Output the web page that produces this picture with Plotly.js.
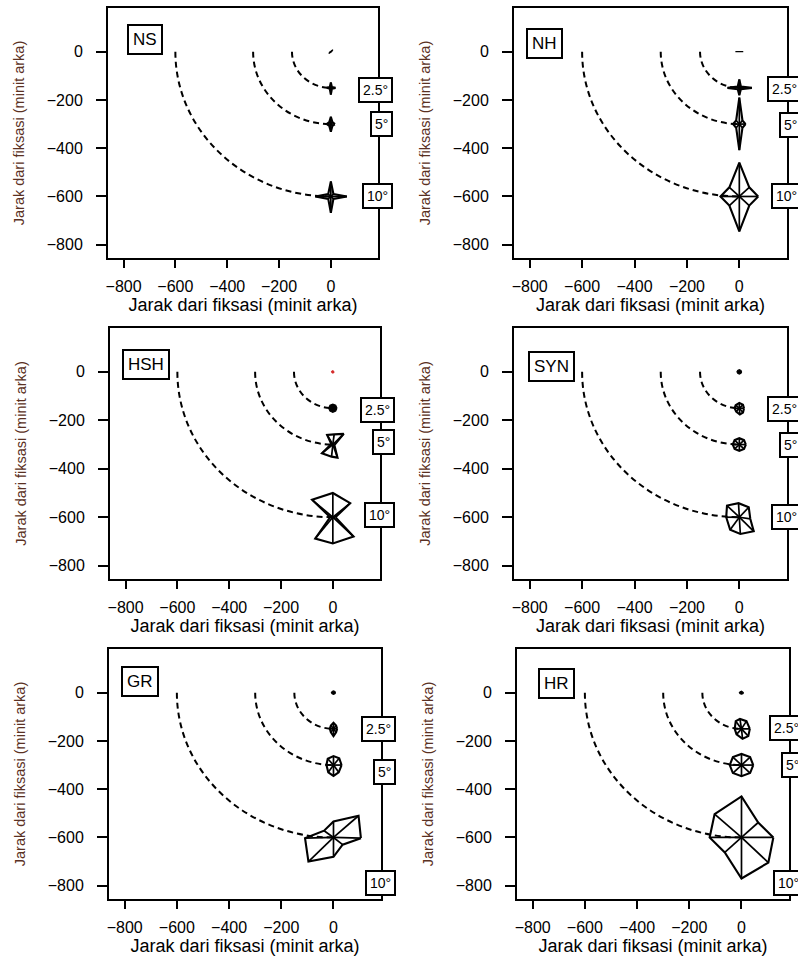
<!DOCTYPE html>
<html><head><meta charset="utf-8">
<script src="https://cdn.plot.ly/plotly-3.0.1.min.js"></script>
<style>html,body{margin:0;padding:0;background:#fff}#chart{width:798px;height:956px}</style>
</head><body><div id="chart"></div>
<script>
const panelNames = ['NS','NH','HSH','SYN','GR','HR'];
const eccentricities = [0,150,300,600];      // centre distance (minit arka) of each test location
const arcRadii = [150,300,600];
const ringLabels = ['2.5°','5°','10°'];
const tickValues = [-800,-600,-400,-200,0];
const axisTitle = 'Jarak dari fiksasi (minit arka)';

// vertex offsets, order: E, NE, N, NW, W, SW, S, SE; rows: fovea, 2.5°, 5°, 10°
const NS_dx = [[3,8,0,-2,-3,-8,0,2],[18,4,0,-4,-15,-4,0,4],[16,6,0,-6,-16,-6,0,6],[62,10,0,-10,-60,-10,0,10]];
const NS_dy = [[0,8,2,2,0,-8,-2,-2],[0,4,22,4,0,-4,-28,-4],[0,8,30,8,0,-8,-32,-8],[0,10,62,10,0,-10,-68,-10]];
const NH_dx = [[15,5,0,-5,-15,-5,0,5],[48,6,0,-6,-45,-6,0,6],[24,12,0,-12,-24,-12,0,12],[72,38,0,-38,-72,-38,0,38]];
const NH_dy = [[0,1,1,1,0,-1,-1,-1],[0,6,35,6,0,-6,-30,-6],[0,15,110,15,0,-15,-108,-15],[0,38,140,38,0,-38,-145,-38]];
const HSH_dx = [[5,3,0,-3,-5,-3,0,3],[16,11,0,-11,-16,-11,0,11],[6,42,5,-22,-6,-42,-5,18],[10,67,0,-80,-10,-68,0,80]];
const HSH_dy = [[0,3,5,3,0,-3,-5,-3],[0,12,17,12,0,-12,-17,-12],[-2,44,42,40,2,-36,-50,-54],[0,58,100,72,0,-88,-108,-80]];
const SYN_dx = [[9,6,0,-6,-9,-6,0,6],[18,14,0,-14,-18,-12,2,14],[25,18,0,-18,-25,-18,0,18],[42,36,-3,-47,-50,-35,4,55]];
const SYN_dy = [[0,6,9,6,0,-6,-9,-6],[0,14,22,12,0,-14,-26,-18],[0,18,26,18,0,-18,-26,-18],[-7,41,58,48,0,-52,-69,-58]];
const GR_dx = [[8,5,0,-5,-8,-5,0,5],[14,10,0,-10,-14,-10,0,10],[31,22,0,-22,-27,-20,0,20],[105,96,0,-36,-109,-96,0,35]];
const GR_dy = [[0,5,7,5,0,-5,-7,-5],[0,14,25,14,0,-14,-30,-14],[0,28,37,26,0,-30,-45,-30],[-3,90,66,28,-3,-100,-80,-30]];
const HR_dx = [[8,5,0,-5,-8,-5,0,5],[32,19,-6,-22,-26,-19,4,26],[45,33,0,-33,-45,-33,0,33],[122,64,0,-103,-122,-64,0,103]];
const HR_dy = [[0,4,6,4,0,-4,-6,-4],[0,32,41,32,0,-23,-41,-30],[0,33,46,33,0,-33,-46,-33],[0,62,170,97,0,-62,-170,-104]];

// vertical position of the boxed eccentricity labels
const labelY_NS = [-158,-301,-600];
const labelY_NH = [-156,-303,-600];
const labelY_HSH = [-156,-290,-590];
const labelY_SYN = [-153,-301,-600];
const labelY_GR = [-152,-330,-790];
const labelY_HR = [-148,-299,-790];

const DX = {NS:NS_dx, NH:NH_dx, HSH:HSH_dx, SYN:SYN_dx, GR:GR_dx, HR:HR_dx};
const DY = {NS:NS_dy, NH:NH_dy, HSH:HSH_dy, SYN:SYN_dy, GR:GR_dy, HR:HR_dy};
const LY = {NS:labelY_NS, NH:labelY_NH, HSH:labelY_HSH, SYN:labelY_SYN, GR:labelY_GR, HR:labelY_HR};

// layout geometry (pixels)
const W = 798, H = 956;
const boxX = [[108,378],[514,787],[110,380],[514,787],[109,381],[517,789]];
const boxY = [[8,258],[8,258],[328,579],[328,579],[649,899],[649,899]];
const tagPx = [[19,16],[12,20],[12,21],[14,23],[12,17],[21,19]];

const FONT = 'Liberation Sans, Arial, sans-serif';
const K = 0.5523;
const traces = [], shapes = [], annotations = [];
const layout = {
  width: W, height: H, margin: {l:0, r:0, t:0, b:0},
  showlegend: false, paper_bgcolor: '#fff', plot_bgcolor: '#fff',
  font: {family: FONT, color: '#000', size: 16}
};

panelNames.forEach((name, k) => {
  const s = k === 0 ? '' : String(k + 1);
  const xa = 'x' + s, ya = 'y' + s;
  const bx = boxX[k], by = boxY[k];
  const wpx = bx[1] - bx[0], hpx = by[1] - by[0];
  layout['xaxis' + s] = {
    domain: [bx[0] / W, bx[1] / W], anchor: ya, range: [-860, 182],
    tickvals: tickValues, ticks: 'outside', ticklen: 8, tickwidth: 2, tickcolor: '#000',
    showline: true, linewidth: 2, linecolor: '#000', mirror: true,
    showgrid: false, zeroline: false, fixedrange: true, ticklabelstandoff: 5,
    tickfont: {size: 16, family: FONT},
    title: {text: axisTitle, font: {size: 18, family: FONT, color: '#000'}, standoff: 2}
  };
  layout['yaxis' + s] = {
    domain: [1 - by[1] / H, 1 - by[0] / H], anchor: xa, range: [-855, 181],
    tickvals: tickValues, ticks: 'outside', ticklen: 10, tickwidth: 2, tickcolor: '#000',
    showline: true, linewidth: 2, linecolor: '#000', mirror: true,
    showgrid: false, zeroline: false, fixedrange: true, ticklabelstandoff: 10,
    tickfont: {size: 16, family: FONT},
    title: {text: axisTitle, font: {size: 14.5, family: FONT, color: '#5a3022'}, standoff: 19}
  };

  // dashed iso-eccentricity arcs
  arcRadii.forEach(r => {
    shapes.push({
      type: 'path', xref: xa, yref: ya, layer: 'below',
      path: `M ${-r},0 C ${-r},${-K * r} ${-K * r},${-r} 0,${-r}`,
      line: {color: '#000', width: 2, dash: '6px,4px'}
    });
  });

  // distortion polygons with spokes
  eccentricities.forEach((e, i) => {
    const dx = DX[name][i], dy = DY[name][i];
    const cx = 0, cy = -e;
    const px = dx.map(v => cx + v); px.push(cx + dx[0]);
    const py = dy.map(v => cy + v); py.push(cy + dy[0]);
    const isRed = name === 'HSH' && i === 0;
    const filled = i === 0 || (name === 'HSH' && i === 1);
    const col = isRed ? '#d42a2a' : '#000';
    traces.push({
      type: 'scatter', mode: 'lines', x: px, y: py, xaxis: xa, yaxis: ya,
      line: {color: col, width: filled ? 1.2 : 2.1}, fill: filled ? 'toself' : 'none',
      fillcolor: col, hoverinfo: 'skip', cliponaxis: false
    });
    if (!filled) {
      const sx = [], sy = [];
      dx.forEach((v, j) => { sx.push(cx, cx + v, null); sy.push(cy, cy + dy[j], null); });
      traces.push({
        type: 'scatter', mode: 'lines', x: sx, y: sy, xaxis: xa, yaxis: ya,
        line: {color: '#000', width: 1.7}, hoverinfo: 'skip'
      });
    }
  });

  // panel tag
  annotations.push({
    xref: xa + ' domain', yref: ya + ' domain',
    x: tagPx[k][0] / wpx, y: 1 - tagPx[k][1] / hpx, xanchor: 'left', yanchor: 'top',
    text: name, showarrow: false, font: {size: 17, family: FONT, color: '#000'},
    bordercolor: '#000', borderwidth: 2, borderpad: 4, bgcolor: '#fff'
  });
  // eccentricity labels
  ringLabels.forEach((t, i) => {
    annotations.push({
      xref: xa + ' domain', yref: ya,
      x: 1 + 15 / wpx, y: LY[name][i], xanchor: 'right', yanchor: 'middle',
      text: t, showarrow: false, font: {size: 14, family: FONT, color: '#000'},
      bordercolor: '#000', borderwidth: 2, borderpad: 3, bgcolor: '#fff'
    });
  });
});

layout.shapes = shapes;
layout.annotations = annotations;
Plotly.newPlot('chart', traces, layout, {staticPlot: true, displayModeBar: false});
</script></body></html>
